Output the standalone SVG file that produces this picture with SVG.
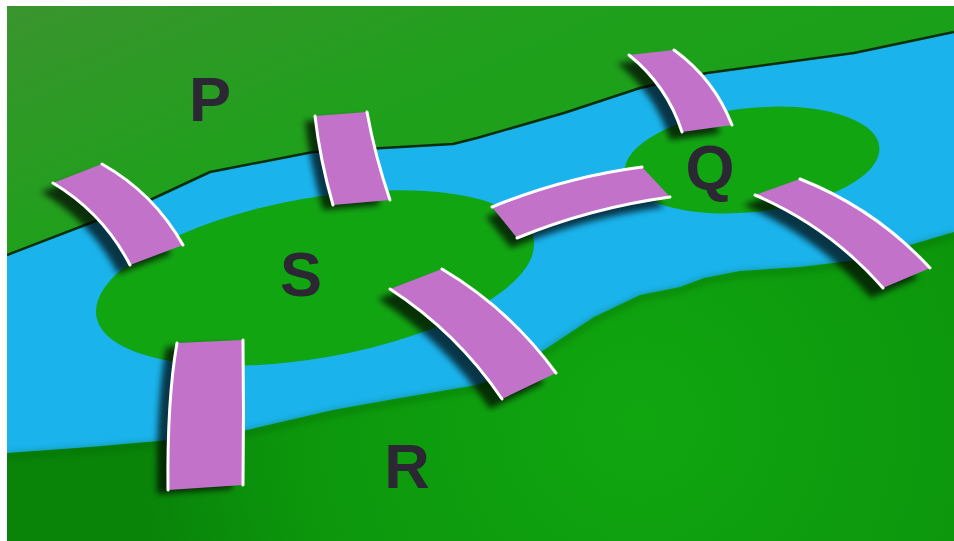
<svg xmlns="http://www.w3.org/2000/svg" width="954" height="541" viewBox="0 0 954 541">
  <defs>
    <style>
      .label { font-family: "Liberation Sans", Arial, sans-serif; font-weight: bold; font-size: 63px; fill: #2b2833; text-anchor: middle; }
      .deck { fill: #c272c9; }
      .edge { fill: none; stroke: #ffffff; stroke-width: 3; stroke-linecap: round; }
      .shadow { fill: #000000; fill-opacity: 0.7; }
    </style>
    <clipPath id="frame"><rect x="7" y="6" width="947" height="535"/></clipPath>
    <linearGradient id="gP" x1="0" y1="0" x2="1" y2="0.6">
      <stop offset="0" stop-color="#3a942e"/>
      <stop offset="0.45" stop-color="#20a01c"/>
      <stop offset="1" stop-color="#17a017"/>
    </linearGradient>
    <radialGradient id="gR" cx="640" cy="420" r="500" gradientUnits="userSpaceOnUse">
      <stop offset="0" stop-color="#10a610"/>
      <stop offset="0.7" stop-color="#0c960c"/>
      <stop offset="1" stop-color="#098409"/>
    </radialGradient>
    <filter id="blur" x="-20%" y="-20%" width="140%" height="140%">
      <feGaussianBlur stdDeviation="3"/>
    </filter>
  </defs>

  <rect x="0" y="0" width="954" height="541" fill="#ffffff"/>

  <g clip-path="url(#frame)">
    <rect id="river" x="7" y="6" width="947" height="535" fill="#1ab3ec"/>

    <g id="P">
      <path d="M7,6 H954 V32 L854,53 L707,73 L640,88 L564,113 L477,138 L453,144 L313,152 L210,172 L150,200 L7,255 Z" fill="url(#gP)"/>
      <path d="M954,32 L854,53 L707,73 L640,88 L564,113 L477,138 L453,144 L313,152 L210,172 L150,200 L7,255" fill="none" stroke="#0c2e0c" stroke-width="2.5" stroke-linejoin="round"/>
      <text class="label" x="210" y="121">P</text>
    </g>

    <g id="R">
      <path d="M7,453 L90,447 L170,440 L247,430 L333,410 L400,398 L477,385 L512,372 L544,350 L594,317 L640,295 L680,287 L704,278 L740,271 L800,267 L850,261 L900,248 L954,232 V541 H7 Z" fill="url(#gR)"/>
      <path d="M7,456 L90,450 L170,443 L247,433 L333,413 L400,401 L477,388 L512,375 L544,353 L594,320 L640,298 L680,290 L704,281 L740,274 L800,270 L850,264 L900,251 L954,235" fill="none" stroke="#055e05" stroke-width="6" opacity="0.35" filter="url(#blur)"/>
      <text class="label" x="407" y="488">R</text>
    </g>

    <g id="S">
      <ellipse cx="315" cy="278" rx="222" ry="80" transform="rotate(-10 315 278)" fill="#12a512"/>
      <text class="label" x="301" y="296">S</text>
    </g>

    <g id="Q">
      <ellipse cx="752" cy="160" rx="128" ry="52" transform="rotate(-6 752 160)" fill="#12a512"/>
      <text class="label" x="710" y="189">Q</text>
    </g>

    <g id="bridges">
      <g id="bridge-PS1">
        <g transform="translate(-12,9)"><path class="shadow" filter="url(#blur)" d="M53,183 L102,164 Q153.8,193.2 183,245 L130,265 Q103.2,213.1 53,183 Z"/></g>
        <path class="deck" d="M53,183 L102,164 Q153.8,193.2 183,245 L130,265 Q103.2,213.1 53,183 Z"/>
        <path class="edge" d="M53,183 Q103.2,213.1 130,265"/>
        <path class="edge" d="M102,164 Q153.8,193.2 183,245"/>
      </g>
      <g id="bridge-PS2">
        <g transform="translate(-10,5)"><path class="shadow" filter="url(#blur)" d="M315,116 L367,112 Q375,156 390,200 L333,205 Q320,160 315,116 Z"/></g>
        <path class="deck" d="M315,116 L367,112 Q375,156 390,200 L333,205 Q320,160 315,116 Z"/>
        <path class="edge" d="M315,116 Q320,160 333,205"/>
        <path class="edge" d="M367,112 Q375,156 390,200"/>
      </g>
      <g id="bridge-SQ">
        <g transform="translate(-6,10)"><path class="shadow" filter="url(#blur)" d="M492,207 Q564.4,177.3 642,167 L670,197 Q590.9,207.8 517,238 Z"/></g>
        <path class="deck" d="M492,207 Q564.4,177.3 642,167 L670,197 Q590.9,207.8 517,238 Z"/>
        <path class="edge" d="M492,207 Q564.4,177.3 642,167"/>
        <path class="edge" d="M517,238 Q590.9,207.8 670,197"/>
      </g>
      <g id="bridge-PQ">
        <g transform="translate(-12,8)"><path class="shadow" filter="url(#blur)" d="M629,55 L674,50 Q714.1,78.9 732,125 L682,132 Q667,85.6 629,55 Z"/></g>
        <path class="deck" d="M629,55 L674,50 Q714.1,78.9 732,125 L682,132 Q667,85.6 629,55 Z"/>
        <path class="edge" d="M629,55 Q667,85.6 682,132"/>
        <path class="edge" d="M674,50 Q714.1,78.9 732,125"/>
      </g>
      <g id="bridge-QR">
        <g transform="translate(-12,10)"><path class="shadow" filter="url(#blur)" d="M755,195 L800,179 Q875.2,208.6 930,268 L883,288 Q829.6,226.9 755,195 Z"/></g>
        <path class="deck" d="M755,195 L800,179 Q875.2,208.6 930,268 L883,288 Q829.6,226.9 755,195 Z"/>
        <path class="edge" d="M755,195 Q829.6,226.9 883,288"/>
        <path class="edge" d="M800,179 Q875.2,208.6 930,268"/>
      </g>
      <g id="bridge-SR1">
        <g transform="translate(-12,10)"><path class="shadow" filter="url(#blur)" d="M390,289 L442,269 Q509.8,309.2 556,373 L502,399 Q457.2,332.6 390,289 Z"/></g>
        <path class="deck" d="M390,289 L442,269 Q509.8,309.2 556,373 L502,399 Q457.2,332.6 390,289 Z"/>
        <path class="edge" d="M390,289 Q457.2,332.6 502,399"/>
        <path class="edge" d="M442,269 Q509.8,309.2 556,373"/>
      </g>
      <g id="bridge-SR2">
        <g transform="translate(-11,4)"><path class="shadow" filter="url(#blur)" d="M177,343 L243,340 Q244,412 243,485 L168,490 Q167,400 177,343 Z"/></g>
        <path class="deck" d="M177,343 L243,340 Q244,412 243,485 L168,490 Q167,400 177,343 Z"/>
        <path class="edge" d="M177,343 Q167,400 168,490"/>
        <path class="edge" d="M243,340 Q244,412 243,485"/>
      </g>
    </g>
  </g>
</svg>
